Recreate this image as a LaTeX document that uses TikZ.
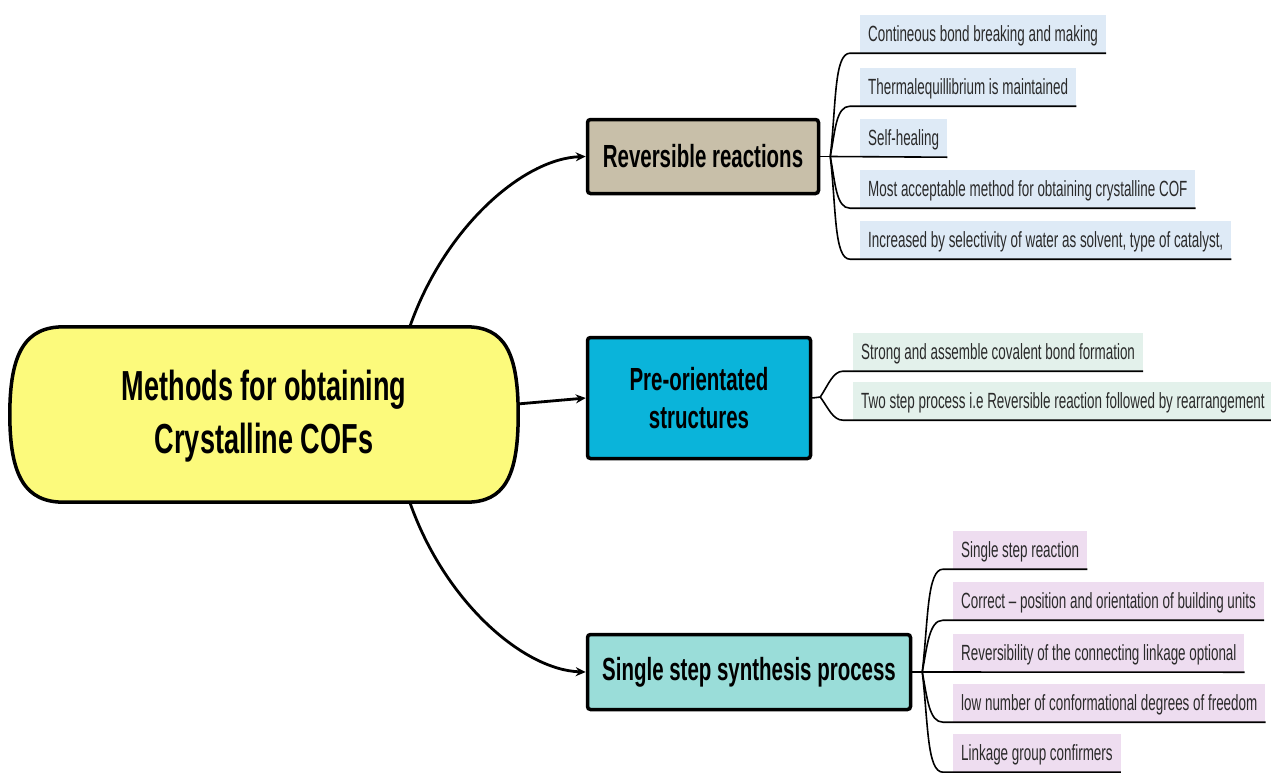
\documentclass[tikz,border=0pt]{standalone}
\usepackage{fontspec}
\usetikzlibrary{calc,arrows.meta,backgrounds}
\newfontfamily\headfont{Liberation Sans}[FakeStretch=0.64]
\newfontfamily\centfont{Liberation Sans}[FakeStretch=0.645]
\newfontfamily\leaffont{Liberation Sans}[FakeStretch=0.61]
\definecolor{cyellow}{HTML}{FCFA7C}
\definecolor{ctan}{HTML}{C8BFA9}
\definecolor{ccyan}{HTML}{0AB4DA}
\definecolor{cteal}{HTML}{9ADDD9}
\definecolor{lblue}{HTML}{DEEAF6}
\definecolor{lgreen}{HTML}{E3F1EB}
\definecolor{lpink}{HTML}{EEDDF0}
\definecolor{ltext}{HTML}{2A2A2A}
\begin{document}
\begin{tikzpicture}[x=1pt,y=-1pt,
  hbox/.style={draw=black, line width=3.5pt, rounded corners=3pt, align=center, inner sep=0pt,
    font=\headfont\bfseries\fontsize{32}{38}\selectfont},
  leaf/.style={anchor=west, font=\leaffont\fontsize{22}{26}\selectfont, text=ltext,
    minimum height=38pt, inner xsep=8pt, inner ysep=0pt, text height=15pt, text depth=0pt},
  arr/.style={line width=2.8pt, -{Stealth[length=10pt,width=9pt]}},
  lline/.style={line width=1.6pt}]
\useasboundingbox (0,0) rectangle (1271,772);

% central node
\node[font=\centfont\bfseries\fontsize{42}{53}\selectfont, align=center,
  minimum width=506pt, minimum height=175pt, inner sep=0pt] (c) at (264,416)
  {Methods for obtaining\\Crystalline COFs};
\begin{scope}[on background layer]
\draw[line width=3.5pt, fill=cyellow]
  ($(c.north west)+(53,-1.5)$) -- ($(c.north east)+(-51,-1.5)$)
  .. controls ($(c.north east)+(-13,-1.5)$) and ($(c.east)+(1,-64)$) .. ($(c.east)+(1,-1.5)$)
  .. controls ($(c.east)+(1,61)$) and ($(c.south east)+(-13,-1.5)$) .. ($(c.south east)+(-51,-1.5)$)
  -- ($(c.south west)+(53,-1.5)$)
  .. controls ($(c.south west)+(15,-1.5)$) and ($(c.west)+(-1,61)$) .. ($(c.west)+(-1,-1.5)$)
  .. controls ($(c.west)+(-1,-64)$) and ($(c.north west)+(15,-1.5)$) .. ($(c.north west)+(53,-1.5)$)
  -- cycle;
\end{scope}

% branch nodes
\node[hbox, fill=ctan, minimum width=231pt, minimum height=74pt] (rev) at (703,156.5) {Reversible reactions};
\node[hbox, fill=ccyan, minimum width=223pt, minimum height=121pt] (pre) at (699,398) {Pre-orientated\\structures};
\node[hbox, fill=cteal, minimum width=323pt, minimum height=75pt] (sss) at (749,672) {Single step synthesis process};

% arrows
\coordinate (ctop) at ($(c.north west)+(399,-1.5)$);
\coordinate (cbot) at ($(c.south west)+(399,-1.5)$);
\coordinate (cmid) at ($(c.east)+(0,-12)$);
\draw[arr] (ctop) .. controls +(35,-100) and +(-62,2) .. (rev.west);
\draw[arr] (cmid) -- (pre.west);
\draw[arr] (cbot) .. controls +(35,100) and +(-62,-2) .. (sss.west);

% top leaves
\node[leaf, fill=lblue] (t1) at (860,34) {Contineous bond breaking and making};
\node[leaf, fill=lblue] (t2) at (860,87) {Thermalequillibrium is maintained};
\node[leaf, fill=lblue] (t3) at (860,138) {Self-healing};
\node[leaf, fill=lblue] (t4) at (860,189) {Most acceptable method for obtaining crystalline COF};
\node[leaf, fill=lblue] (t5) at (860,240) {Increased by selectivity of water as solvent, type of catalyst,};

% middle leaves
\node[leaf, fill=lgreen] (m1) at (853,352) {Strong and assemble covalent bond formation};
\node[leaf, fill=lgreen] (m2) at (853,401) {Two step process i.e Reversible reaction followed by rearrangement};

% bottom leaves
\node[leaf, fill=lpink] (b1) at (953,550) {Single step reaction};
\node[leaf, fill=lpink] (b2) at (953,601) {Correct – position and orientation of building units};
\node[leaf, fill=lpink] (b3) at (953,653) {Reversibility of the connecting linkage optional};
\node[leaf, fill=lpink] (b4) at (953,703) {low number of conformational degrees of freedom};
\node[leaf, fill=lpink] (b5) at (953,753) {Linkage group confirmers};

% fork points
\coordinate (F1) at ($(rev.east)+(10,0)$);
\coordinate (F2) at ($(pre.east)+(8,-1)$);
\coordinate (F3) at ($(sss.east)+(10,0)$);
\draw[lline] (rev.east) -- (F1);
\draw[lline] (pre.east) -- (F2);
\draw[lline] (sss.east) -- (F3);

% top connectors
\draw[lline] (F1) .. controls +(6,-52) and +(-16,0) .. ($(t1.south west)+(-10,0)$) -- (t1.south east);
\draw[lline] (F1) .. controls +(5,-26) and +(-14,0) .. ($(t2.south west)+(-10,0)$) -- (t2.south east);
\draw[lline] (F1) -- (t3.south east);
\draw[lline] (F1) .. controls +(5,26) and +(-14,0) .. ($(t4.south west)+(-10,0)$) -- (t4.south east);
\draw[lline] (F1) .. controls +(6,52) and +(-16,0) .. ($(t5.south west)+(-10,0)$) -- (t5.south east);

% middle connectors
\draw[lline] (F2) .. controls +(8,-12) and +(-10,0) .. ($(m1.south west)+(-10,0)$) -- (m1.south east);
\draw[lline] (F2) .. controls +(8,11) and +(-10,0) .. ($(m2.south west)+(-10,0)$) -- (m2.south east);

% bottom connectors
\draw[lline] (F3) .. controls +(6,-52) and +(-16,0) .. ($(b1.south west)+(-10,0)$) -- (b1.south east);
\draw[lline] (F3) .. controls +(5,-26) and +(-14,0) .. ($(b2.south west)+(-10,0)$) -- (b2.south east);
\draw[lline] (F3) -- (b3.south east);
\draw[lline] (F3) .. controls +(5,26) and +(-14,0) .. ($(b4.south west)+(-10,0)$) -- (b4.south east);
\draw[lline] (F3) .. controls +(6,52) and +(-16,0) .. ($(b5.south west)+(-10,0)$) -- (b5.south east);
\end{tikzpicture}
\end{document}
